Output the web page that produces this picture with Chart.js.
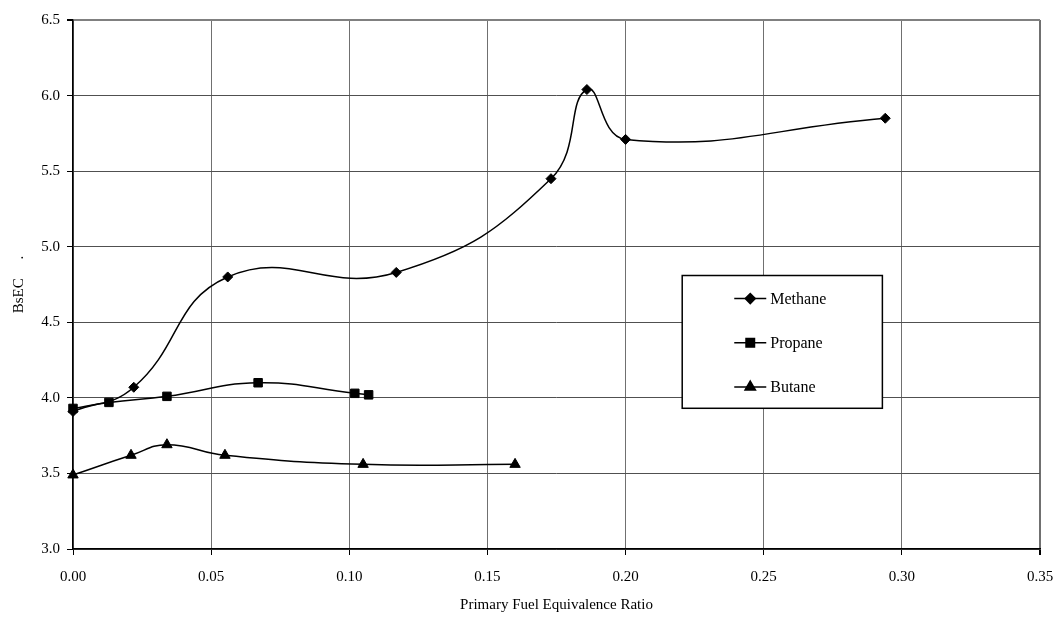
<!DOCTYPE html>
<html>
<head>
<meta charset="utf-8">
<script src="https://cdn.jsdelivr.net/npm/chart.js@4/dist/chart.umd.min.js"></script>
<style>
  html, body { margin: 0; padding: 0; background: #fff; }
  #wrap { width: 1061px; height: 619px; }
</style>
</head>
<body>
<div id="wrap"><canvas id="bsecChart" width="1061" height="619"></canvas></div>
<script>
// Data
const methaneX = [0, 0.022, 0.056, 0.117, 0.173, 0.186, 0.200, 0.294];
const methaneY = [3.91, 4.07, 4.80, 4.83, 5.45, 6.04, 5.71, 5.85];
const propaneX = [0, 0.013, 0.034, 0.067, 0.102, 0.107];
const propaneY = [3.93, 3.97, 4.01, 4.10, 4.03, 4.02];
const butaneX = [0, 0.021, 0.034, 0.055, 0.105, 0.160];
const butaneY = [3.49, 3.62, 3.69, 3.62, 3.56, 3.56];

const xTicks = [0, 0.05, 0.10, 0.15, 0.20, 0.25, 0.30, 0.35];
const yTicks = [3.0, 3.5, 4.0, 4.5, 5.0, 5.5, 6.0, 6.5];

const FONT = "'Liberation Serif', 'Times New Roman', serif";

function pts(xs, ys) {
    return xs.map((x, i) => ({ x: x, y: ys[i] }));
}

function series(label, xs, ys, style, radius, order) {
    return {
        label: label,
        data: pts(xs, ys),
        borderColor: '#000',
        backgroundColor: '#000',
        borderWidth: 1.5,
        pointStyle: style,
        pointRadius: radius,
        pointHoverRadius: radius,
        pointBorderWidth: 1,
        tension: 0.45,
        clip: false,
        order: order
    };
}

// Legend drawn inside the plot, boxed, like the original
const boxLegend = {
    id: 'boxLegend',
    afterDatasetsDraw(chart) {
        const { ctx, chartArea: a } = chart;
        const w = a.right - a.left, h = a.bottom - a.top;
        const bx = a.left + w * 0.630, by = a.top + h * 0.483;
        const bw = w * 0.207, bh = h * 0.251;
        ctx.save();
        ctx.fillStyle = '#fff';
        ctx.fillRect(bx, by, bw, bh);
        ctx.strokeStyle = '#000';
        ctx.lineWidth = 1.5;
        ctx.strokeRect(bx, by, bw, bh);
        const items = [chart.data.datasets[0], chart.data.datasets[1], chart.data.datasets[2]];
        items.forEach((ds, i) => {
            const cy = by + bh * (0.174 + i * 0.333);
            const lx = bx + bw * 0.26;
            ctx.strokeStyle = '#000';
            ctx.lineWidth = 1.5;
            ctx.beginPath();
            ctx.moveTo(lx, cy);
            ctx.lineTo(lx + 32, cy);
            ctx.stroke();
            ctx.fillStyle = '#000';
            Chart.helpers.drawPoint(ctx, {
                pointStyle: ds.pointStyle, radius: ds.pointRadius, borderWidth: 1
            }, lx + 16, cy);
            ctx.fillStyle = '#000';
            ctx.font = "16px " + FONT;
            ctx.textAlign = 'left';
            ctx.textBaseline = 'middle';
            ctx.fillText(ds.label, lx + 36, cy + 1);
        });
        ctx.restore();
    }
};

const ctx = document.getElementById('bsecChart').getContext('2d');
const bsecChart = new Chart(ctx, {
    type: 'line',
    data: {
        datasets: [
            series('Methane', methaneX, methaneY, 'rectRot', 5, 3),
            series('Propane', propaneX, propaneY, 'rect', 6, 2),
            series('Butane', butaneX, butaneY, 'triangle', 6, 1)
        ]
    },
    options: {
        responsive: false,
        animation: false,
        events: [],
        layout: { padding: { top: 20, right: 21, left: 0, bottom: 0 } },
        plugins: {
            legend: { display: false },
            tooltip: { enabled: false }
        },
        scales: {
            x: {
                type: 'linear',
                min: xTicks[0],
                max: xTicks[xTicks.length - 1],
                afterBuildTicks: (s) => { s.ticks = xTicks.map(v => ({ value: v })); },
                afterFit: (s) => { s.height = 70; s.paddingLeft = 0; s.paddingRight = 0; },
                ticks: {
                    color: '#000',
                    font: { family: FONT, size: 15 },
                    padding: 13,
                    maxRotation: 0,
                    callback: (v) => Number(v).toFixed(2)
                },
                grid: {
                    color: '#707070',
                    lineWidth: (c) => (c.index === xTicks.length - 1 ? 2 : 1),
                    tickColor: '#000',
                    tickLength: 6
                },
                border: { color: '#000', width: 1.5 },
                title: {
                    display: true,
                    text: 'Primary Fuel Equivalence Ratio',
                    color: '#000',
                    font: { family: FONT, size: 15 },
                    padding: { top: 0, bottom: 5 }
                }
            },
            y: {
                type: 'linear',
                min: yTicks[0],
                max: yTicks[yTicks.length - 1],
                afterBuildTicks: (s) => { s.ticks = yTicks.map(v => ({ value: v })); },
                afterFit: (s) => { s.width = 73; s.paddingTop = 0; s.paddingBottom = 0; },
                ticks: {
                    color: '#000',
                    font: { family: FONT, size: 15 },
                    padding: 7,
                    callback: (v) => Number(v).toFixed(1)
                },
                grid: {
                    color: (c) => (c.index === yTicks.length - 1 ? '#808080' : '#505050'),
                    lineWidth: (c) => (c.index === yTicks.length - 1 ? 2 : 1),
                    tickColor: '#000',
                    tickLength: 6
                },
                border: { color: '#000', width: 1.5 },
                title: {
                    display: true,
                    text: 'BsEC     .',
                    color: '#000',
                    font: { family: FONT, size: 15 },
                    padding: { top: 10, bottom: 0 }
                }
            }
        }
    },
    plugins: [boxLegend]
});
</script>
</body>
</html>
